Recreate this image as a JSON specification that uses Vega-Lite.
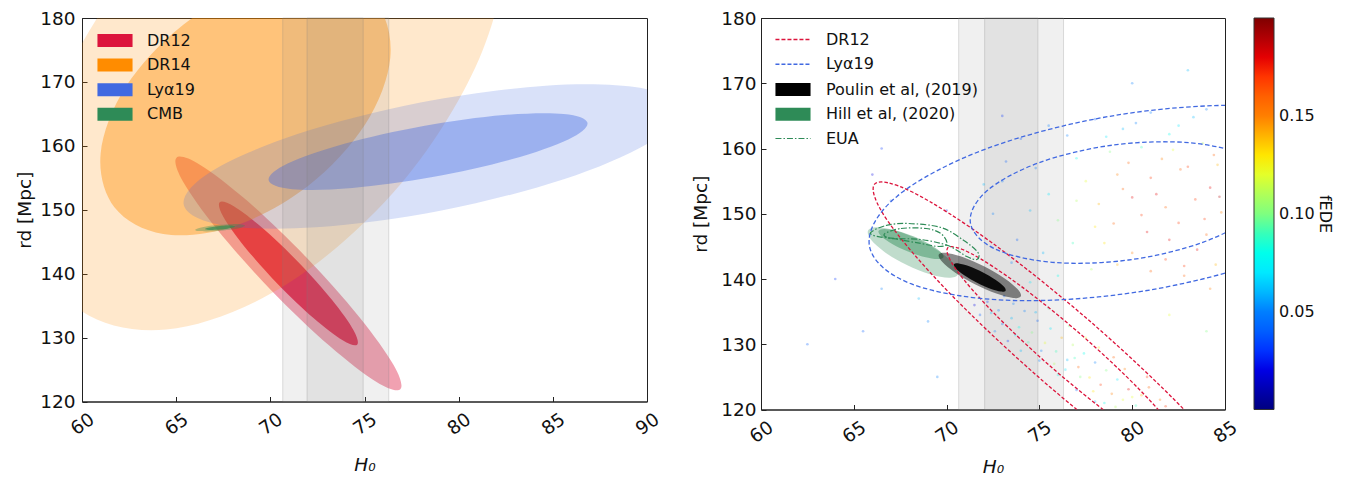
{
"$schema":"https://vega.github.io/schema/vega-lite/v6.json",
"background":"white",
"padding":{"left":15,"top":8,"right":5,"bottom":5},
"config":{"font":"DejaVu Sans","view":{"stroke":"#222","strokeWidth":1},
 "legend":{"symbolOpacity":1,"gradientOpacity":1},
 "axis":{"grid":false,"domainColor":"#222","domainWidth":1,"tickColor":"#222","tickSize":-5,"tickWidth":1,"labelFontSize":18.5,"titleFontSize":18.5,"titleFontWeight":"normal","labelColor":"#111","titleColor":"#111","labelFlush":false,"labelOverlap":false,"labelBound":false}},
"datasets":{
"bandL":[{"x":70.66,"x2":76.29,"y":120,"y2":180},{"x":71.95,"x2":74.93,"y":120,"y2":180}],
"bandR":[{"x":70.65,"x2":76.3,"y":120,"y2":180},{"x":72.05,"x2":74.92,"y":120,"y2":180}],
"shp":[
{"id":"dr12o","n":"DR12","o":0,"x":76.90,"y":121.91},{"id":"dr12o","n":"DR12","o":1,"x":75.64,"y":123.04},{"id":"dr12o","n":"DR12","o":2,"x":73.14,"y":128.71},{"id":"dr12o","n":"DR12","o":3,"x":70.04,"y":137.42},{"id":"dr12o","n":"DR12","o":4,"x":67.20,"y":146.83},{"id":"dr12o","n":"DR12","o":5,"x":65.36,"y":154.42},{"id":"dr12o","n":"DR12","o":6,"x":65.02,"y":158.15},{"id":"dr12o","n":"DR12","o":7,"x":66.28,"y":157.02},{"id":"dr12o","n":"DR12","o":8,"x":68.79,"y":151.35},{"id":"dr12o","n":"DR12","o":9,"x":71.88,"y":142.64},{"id":"dr12o","n":"DR12","o":10,"x":74.72,"y":133.23},{"id":"dr12o","n":"DR12","o":11,"x":76.56,"y":125.64},
{"id":"dr12i","n":"DR12","o":0,"x":74.61,"y":128.89},{"id":"dr12i","n":"DR12","o":1,"x":73.84,"y":129.57},{"id":"dr12i","n":"DR12","o":2,"x":72.29,"y":133.05},{"id":"dr12i","n":"DR12","o":3,"x":70.39,"y":138.40},{"id":"dr12i","n":"DR12","o":4,"x":68.64,"y":144.19},{"id":"dr12i","n":"DR12","o":5,"x":67.51,"y":148.86},{"id":"dr12i","n":"DR12","o":6,"x":67.31,"y":151.17},{"id":"dr12i","n":"DR12","o":7,"x":68.08,"y":150.49},{"id":"dr12i","n":"DR12","o":8,"x":69.63,"y":147.01},{"id":"dr12i","n":"DR12","o":9,"x":71.53,"y":141.66},{"id":"dr12i","n":"DR12","o":10,"x":73.28,"y":135.87},{"id":"dr12i","n":"DR12","o":11,"x":74.41,"y":131.20},
{"id":"dr14o","n":"DR14","o":0,"x":80.40,"y":208.10},{"id":"dr14o","n":"DR14","o":1,"x":82.51,"y":194.55},{"id":"dr14o","n":"DR14","o":2,"x":81.26,"y":174.85},{"id":"dr14o","n":"DR14","o":3,"x":76.99,"y":154.25},{"id":"dr14o","n":"DR14","o":4,"x":70.85,"y":138.30},{"id":"dr14o","n":"DR14","o":5,"x":64.48,"y":131.25},{"id":"dr14o","n":"DR14","o":6,"x":59.58,"y":135.00},{"id":"dr14o","n":"DR14","o":7,"x":57.48,"y":148.55},{"id":"dr14o","n":"DR14","o":8,"x":58.72,"y":168.26},{"id":"dr14o","n":"DR14","o":9,"x":62.99,"y":188.85},{"id":"dr14o","n":"DR14","o":10,"x":69.13,"y":204.81},{"id":"dr14o","n":"DR14","o":11,"x":75.51,"y":211.85},
{"id":"dr14i","n":"DR14","o":0,"x":75.64,"y":182.24},{"id":"dr14i","n":"DR14","o":1,"x":76.37,"y":173.80},{"id":"dr14i","n":"DR14","o":2,"x":75.04,"y":163.36},{"id":"dr14i","n":"DR14","o":3,"x":72.00,"y":153.70},{"id":"dr14i","n":"DR14","o":4,"x":68.07,"y":147.43},{"id":"dr14i","n":"DR14","o":5,"x":64.31,"y":146.21},{"id":"dr14i","n":"DR14","o":6,"x":61.72,"y":150.38},{"id":"dr14i","n":"DR14","o":7,"x":60.99,"y":158.82},{"id":"dr14i","n":"DR14","o":8,"x":62.33,"y":169.27},{"id":"dr14i","n":"DR14","o":9,"x":65.36,"y":178.92},{"id":"dr14i","n":"DR14","o":10,"x":69.29,"y":185.20},{"id":"dr14i","n":"DR14","o":11,"x":73.05,"y":186.41},
{"id":"lyao","n":"Lyα19","o":0,"x":91.67,"y":165.85},{"id":"lyao","n":"Lyα19","o":1,"x":90.18,"y":160.62},{"id":"lyao","n":"Lyα19","o":2,"x":85.58,"y":154.78},{"id":"lyao","n":"Lyα19","o":3,"x":79.09,"y":149.88},{"id":"lyao","n":"Lyα19","o":4,"x":72.44,"y":147.26},{"id":"lyao","n":"Lyα19","o":5,"x":67.43,"y":147.59},{"id":"lyao","n":"Lyα19","o":6,"x":65.40,"y":150.81},{"id":"lyao","n":"Lyα19","o":7,"x":66.88,"y":156.04},{"id":"lyao","n":"Lyα19","o":8,"x":71.48,"y":161.88},{"id":"lyao","n":"Lyα19","o":9,"x":77.97,"y":166.78},{"id":"lyao","n":"Lyα19","o":10,"x":84.62,"y":169.41},{"id":"lyao","n":"Lyα19","o":11,"x":89.63,"y":169.07},
{"id":"lyai","n":"Lyα19","o":0,"x":86.84,"y":163.60},{"id":"lyai","n":"Lyα19","o":1,"x":85.82,"y":161.00},{"id":"lyai","n":"Lyα19","o":2,"x":82.81,"y":157.89},{"id":"lyai","n":"Lyα19","o":3,"x":78.61,"y":155.11},{"id":"lyai","n":"Lyα19","o":4,"x":74.35,"y":153.40},{"id":"lyai","n":"Lyα19","o":5,"x":71.16,"y":153.22},{"id":"lyai","n":"Lyα19","o":6,"x":69.91,"y":154.62},{"id":"lyai","n":"Lyα19","o":7,"x":70.92,"y":157.22},{"id":"lyai","n":"Lyα19","o":8,"x":73.93,"y":160.33},{"id":"lyai","n":"Lyα19","o":9,"x":78.13,"y":163.11},{"id":"lyai","n":"Lyα19","o":10,"x":82.39,"y":164.82},{"id":"lyai","n":"Lyα19","o":11,"x":85.58,"y":165.00},
{"id":"cmbo","n":"CMB","o":0,"x":68.65,"y":147.52},{"id":"cmbo","n":"CMB","o":1,"x":68.48,"y":147.24},{"id":"cmbo","n":"CMB","o":2,"x":68.00,"y":146.94},{"id":"cmbo","n":"CMB","o":3,"x":67.34,"y":146.71},{"id":"cmbo","n":"CMB","o":4,"x":66.68,"y":146.61},{"id":"cmbo","n":"CMB","o":5,"x":66.19,"y":146.66},{"id":"cmbo","n":"CMB","o":6,"x":66.01,"y":146.85},{"id":"cmbo","n":"CMB","o":7,"x":66.18,"y":147.12},{"id":"cmbo","n":"CMB","o":8,"x":66.66,"y":147.42},{"id":"cmbo","n":"CMB","o":9,"x":67.32,"y":147.65},{"id":"cmbo","n":"CMB","o":10,"x":67.98,"y":147.75},{"id":"cmbo","n":"CMB","o":11,"x":68.47,"y":147.70},
{"id":"cmbi","n":"CMB","o":0,"x":68.12,"y":147.38},{"id":"cmbi","n":"CMB","o":1,"x":68.02,"y":147.21},{"id":"cmbi","n":"CMB","o":2,"x":67.73,"y":147.04},{"id":"cmbi","n":"CMB","o":3,"x":67.34,"y":146.90},{"id":"cmbi","n":"CMB","o":4,"x":66.94,"y":146.84},{"id":"cmbi","n":"CMB","o":5,"x":66.65,"y":146.87},{"id":"cmbi","n":"CMB","o":6,"x":66.54,"y":146.98},{"id":"cmbi","n":"CMB","o":7,"x":66.64,"y":147.15},{"id":"cmbi","n":"CMB","o":8,"x":66.93,"y":147.32},{"id":"cmbi","n":"CMB","o":9,"x":67.32,"y":147.46},{"id":"cmbi","n":"CMB","o":10,"x":67.72,"y":147.52},{"id":"cmbi","n":"CMB","o":11,"x":68.01,"y":147.49},
{"id":"rdo","n":"DR12","o":0,"x":86.84,"y":103.25},{"id":"rdo","n":"DR12","o":1,"x":84.78,"y":104.49},{"id":"rdo","n":"DR12","o":2,"x":80.50,"y":112.26},{"id":"rdo","n":"DR12","o":3,"x":75.14,"y":124.50},{"id":"rdo","n":"DR12","o":4,"x":70.14,"y":137.90},{"id":"rdo","n":"DR12","o":5,"x":66.83,"y":148.89},{"id":"rdo","n":"DR12","o":6,"x":66.12,"y":154.53},{"id":"rdo","n":"DR12","o":7,"x":68.18,"y":153.29},{"id":"rdo","n":"DR12","o":8,"x":72.46,"y":145.52},{"id":"rdo","n":"DR12","o":9,"x":77.82,"y":133.29},{"id":"rdo","n":"DR12","o":10,"x":82.83,"y":119.88},{"id":"rdo","n":"DR12","o":11,"x":86.13,"y":108.89},
{"id":"rdi","n":"DR12","o":0,"x":82.90,"y":113.00},{"id":"rdi","n":"DR12","o":1,"x":81.65,"y":113.86},{"id":"rdi","n":"DR12","o":2,"x":79.02,"y":118.74},{"id":"rdi","n":"DR12","o":3,"x":75.70,"y":126.35},{"id":"rdi","n":"DR12","o":4,"x":72.60,"y":134.63},{"id":"rdi","n":"DR12","o":5,"x":70.53,"y":141.38},{"id":"rdi","n":"DR12","o":6,"x":70.06,"y":144.78},{"id":"rdi","n":"DR12","o":7,"x":71.31,"y":143.92},{"id":"rdi","n":"DR12","o":8,"x":73.94,"y":139.04},{"id":"rdi","n":"DR12","o":9,"x":77.26,"y":131.43},{"id":"rdi","n":"DR12","o":10,"x":80.36,"y":123.15},{"id":"rdi","n":"DR12","o":11,"x":82.43,"y":116.40},
{"id":"rlo","n":"Lyα19","o":0,"x":94.00,"y":158.21},{"id":"rlo","n":"Lyα19","o":1,"x":92.50,"y":150.60},{"id":"rlo","n":"Lyα19","o":2,"x":87.63,"y":143.27},{"id":"rlo","n":"Lyα19","o":3,"x":80.69,"y":138.19},{"id":"rlo","n":"Lyα19","o":4,"x":73.55,"y":136.71},{"id":"rlo","n":"Lyα19","o":5,"x":68.11,"y":139.24},{"id":"rlo","n":"Lyα19","o":6,"x":65.84,"y":145.09},{"id":"rlo","n":"Lyα19","o":7,"x":67.34,"y":152.70},{"id":"rlo","n":"Lyα19","o":8,"x":72.21,"y":160.03},{"id":"rlo","n":"Lyα19","o":9,"x":79.15,"y":165.11},{"id":"rlo","n":"Lyα19","o":10,"x":86.29,"y":166.59},{"id":"rlo","n":"Lyα19","o":11,"x":91.73,"y":164.06},
{"id":"rli","n":"Lyα19","o":0,"x":87.51,"y":154.79},{"id":"rli","n":"Lyα19","o":1,"x":86.62,"y":149.97},{"id":"rli","n":"Lyα19","o":2,"x":83.80,"y":145.62},{"id":"rli","n":"Lyα19","o":3,"x":79.80,"y":142.91},{"id":"rli","n":"Lyα19","o":4,"x":75.69,"y":142.56},{"id":"rli","n":"Lyα19","o":5,"x":72.57,"y":144.66},{"id":"rli","n":"Lyα19","o":6,"x":71.28,"y":148.66},{"id":"rli","n":"Lyα19","o":7,"x":72.16,"y":153.47},{"id":"rli","n":"Lyα19","o":8,"x":74.98,"y":157.82},{"id":"rli","n":"Lyα19","o":9,"x":78.98,"y":160.53},{"id":"rli","n":"Lyα19","o":10,"x":83.09,"y":160.88},{"id":"rli","n":"Lyα19","o":11,"x":86.21,"y":158.78},
{"id":"poo","n":"Poulin et al, (2019)","o":0,"x":74.00,"y":137.34},{"id":"poo","n":"Poulin et al, (2019)","o":1,"x":73.58,"y":137.08},{"id":"poo","n":"Poulin et al, (2019)","o":2,"x":72.68,"y":137.76},{"id":"poo","n":"Poulin et al, (2019)","o":3,"x":71.55,"y":139.17},{"id":"poo","n":"Poulin et al, (2019)","o":4,"x":70.47,"y":140.96},{"id":"poo","n":"Poulin et al, (2019)","o":5,"x":69.76,"y":142.63},{"id":"poo","n":"Poulin et al, (2019)","o":6,"x":69.58,"y":143.74},{"id":"poo","n":"Poulin et al, (2019)","o":7,"x":70.00,"y":144.00},{"id":"poo","n":"Poulin et al, (2019)","o":8,"x":70.90,"y":143.33},{"id":"poo","n":"Poulin et al, (2019)","o":9,"x":72.04,"y":141.91},{"id":"poo","n":"Poulin et al, (2019)","o":10,"x":73.11,"y":140.12},{"id":"poo","n":"Poulin et al, (2019)","o":11,"x":73.82,"y":138.45},
{"id":"poi","n":"Poulin et al, (2019)","o":0,"x":73.18,"y":138.21},{"id":"poi","n":"Poulin et al, (2019)","o":1,"x":72.92,"y":138.07},{"id":"poi","n":"Poulin et al, (2019)","o":2,"x":72.36,"y":138.51},{"id":"poi","n":"Poulin et al, (2019)","o":3,"x":71.64,"y":139.41},{"id":"poi","n":"Poulin et al, (2019)","o":4,"x":70.97,"y":140.53},{"id":"poi","n":"Poulin et al, (2019)","o":5,"x":70.51,"y":141.57},{"id":"poi","n":"Poulin et al, (2019)","o":6,"x":70.40,"y":142.25},{"id":"poi","n":"Poulin et al, (2019)","o":7,"x":70.66,"y":142.39},{"id":"poi","n":"Poulin et al, (2019)","o":8,"x":71.22,"y":141.95},{"id":"poi","n":"Poulin et al, (2019)","o":9,"x":71.94,"y":141.05},{"id":"poi","n":"Poulin et al, (2019)","o":10,"x":72.61,"y":139.93},{"id":"poi","n":"Poulin et al, (2019)","o":11,"x":73.07,"y":138.89},
{"id":"hio","n":"Hill et al, (2020)","o":0,"x":70.61,"y":140.70},{"id":"hio","n":"Hill et al, (2020)","o":1,"x":70.12,"y":140.19},{"id":"hio","n":"Hill et al, (2020)","o":2,"x":69.11,"y":140.71},{"id":"hio","n":"Hill et al, (2020)","o":3,"x":67.86,"y":142.13},{"id":"hio","n":"Hill et al, (2020)","o":4,"x":66.69,"y":144.07},{"id":"hio","n":"Hill et al, (2020)","o":5,"x":65.93,"y":146.00},{"id":"hio","n":"Hill et al, (2020)","o":6,"x":65.77,"y":147.42},{"id":"hio","n":"Hill et al, (2020)","o":7,"x":66.26,"y":147.93},{"id":"hio","n":"Hill et al, (2020)","o":8,"x":67.27,"y":147.41},{"id":"hio","n":"Hill et al, (2020)","o":9,"x":68.52,"y":145.99},{"id":"hio","n":"Hill et al, (2020)","o":10,"x":69.69,"y":144.05},{"id":"hio","n":"Hill et al, (2020)","o":11,"x":70.45,"y":142.12},
{"id":"hii","n":"Hill et al, (2020)","o":0,"x":69.83,"y":143.35},{"id":"hii","n":"Hill et al, (2020)","o":1,"x":69.51,"y":143.05},{"id":"hii","n":"Hill et al, (2020)","o":2,"x":68.81,"y":143.37},{"id":"hii","n":"Hill et al, (2020)","o":3,"x":67.92,"y":144.22},{"id":"hii","n":"Hill et al, (2020)","o":4,"x":67.07,"y":145.38},{"id":"hii","n":"Hill et al, (2020)","o":5,"x":66.49,"y":146.53},{"id":"hii","n":"Hill et al, (2020)","o":6,"x":66.33,"y":147.37},{"id":"hii","n":"Hill et al, (2020)","o":7,"x":66.65,"y":147.67},{"id":"hii","n":"Hill et al, (2020)","o":8,"x":67.35,"y":147.35},{"id":"hii","n":"Hill et al, (2020)","o":9,"x":68.24,"y":146.50},{"id":"hii","n":"Hill et al, (2020)","o":10,"x":69.09,"y":145.34},{"id":"hii","n":"Hill et al, (2020)","o":11,"x":69.67,"y":144.19},
{"id":"euo","n":"EUA","o":0,"x":65.92,"y":147.13},{"id":"euo","n":"EUA","o":1,"x":66.73,"y":148.20},{"id":"euo","n":"EUA","o":2,"x":67.92,"y":148.51},{"id":"euo","n":"EUA","o":3,"x":69.69,"y":147.89},{"id":"euo","n":"EUA","o":4,"x":70.93,"y":145.90},{"id":"euo","n":"EUA","o":5,"x":71.69,"y":144.06},{"id":"euo","n":"EUA","o":6,"x":71.63,"y":142.99},{"id":"euo","n":"EUA","o":7,"x":71.09,"y":143.45},{"id":"euo","n":"EUA","o":8,"x":70.07,"y":145.13},{"id":"euo","n":"EUA","o":9,"x":68.62,"y":146.05},{"id":"euo","n":"EUA","o":10,"x":67.27,"y":146.21},{"id":"euo","n":"EUA","o":11,"x":66.25,"y":146.52},
{"id":"eui","n":"EUA","o":0,"x":66.68,"y":146.97},{"id":"eui","n":"EUA","o":1,"x":67.54,"y":147.74},{"id":"eui","n":"EUA","o":2,"x":68.89,"y":147.74},{"id":"eui","n":"EUA","o":3,"x":69.69,"y":146.97},{"id":"eui","n":"EUA","o":4,"x":70.02,"y":145.44},{"id":"eui","n":"EUA","o":5,"x":69.59,"y":144.98},{"id":"eui","n":"EUA","o":6,"x":68.62,"y":145.44},{"id":"eui","n":"EUA","o":7,"x":67.43,"y":146.05},{"id":"eui","n":"EUA","o":8,"x":66.79,"y":146.36}
],
"pts":[
{"x":72.2,"y":136.5,"f":0.03},{"x":72.8,"y":135.2,"f":0.05},{"x":73.1,"y":137.4,"f":0.04},{"x":73.5,"y":134.0,"f":0.06},{"x":73.9,"y":132.6,"f":0.08},{"x":74.2,"y":135.1,"f":0.05},{"x":74.6,"y":131.8,"f":0.10},{"x":74.9,"y":133.6,"f":0.04},{"x":75.3,"y":130.2,"f":0.12},{"x":75.6,"y":132.4,"f":0.07},{"x":75.9,"y":128.9,"f":0.09},{"x":76.2,"y":131.0,"f":0.14},{"x":76.5,"y":127.6,"f":0.06},{"x":76.8,"y":129.9,"f":0.11},{"x":77.1,"y":126.5,"f":0.16},{"x":77.4,"y":128.6,"f":0.08},{"x":77.7,"y":124.9,"f":0.13},{"x":78.0,"y":127.2,"f":0.05},{"x":78.3,"y":123.8,"f":0.17},{"x":78.6,"y":126.0,"f":0.10},{"x":78.9,"y":122.4,"f":0.15},{"x":79.2,"y":124.6,"f":0.07},{"x":79.5,"y":121.5,"f":0.12},{"x":79.8,"y":123.1,"f":0.18},{"x":80.2,"y":120.6,"f":0.09},{"x":80.5,"y":122.2,"f":0.14},{"x":73.3,"y":130.5,"f":0.03},{"x":74.0,"y":129.0,"f":0.06},{"x":75.0,"y":127.5,"f":0.05},{"x":76.0,"y":125.3,"f":0.08},{"x":77.0,"y":123.0,"f":0.04},{"x":78.0,"y":121.2,"f":0.06},{"x":72.6,"y":132.0,"f":0.05},{"x":71.5,"y":136.0,"f":0.02},{"x":71.8,"y":134.5,"f":0.04},{"x":75.5,"y":135.5,"f":0.09},{"x":77.5,"y":131.0,"f":0.12},{"x":79.0,"y":128.0,"f":0.16},{"x":80.8,"y":125.0,"f":0.17},{"x":81.5,"y":121.5,"f":0.15},
{"x":72.4,"y":134.8,"f":0.06},{"x":73.0,"y":133.1,"f":0.04},{"x":73.7,"y":131.4,"f":0.07},{"x":74.4,"y":130.3,"f":0.09},{"x":75.1,"y":129.0,"f":0.05},{"x":75.8,"y":127.0,"f":0.11},{"x":76.4,"y":126.1,"f":0.07},{"x":77.2,"y":125.0,"f":0.10},{"x":77.9,"y":122.8,"f":0.13},{"x":78.5,"y":121.0,"f":0.08},{"x":79.1,"y":120.4,"f":0.11},{"x":74.8,"y":134.9,"f":0.06},{"x":76.6,"y":132.8,"f":0.10},{"x":78.2,"y":129.5,"f":0.13},{"x":79.6,"y":126.2,"f":0.15},{"x":80.9,"y":123.4,"f":0.16},{"x":81.8,"y":120.5,"f":0.17},{"x":73.6,"y":136.2,"f":0.05},{"x":76.9,"y":127.9,"f":0.09},{"x":80.0,"y":121.9,"f":0.12},
{"x":76.5,"y":162.0,"f":0.05},{"x":78.0,"y":164.5,"f":0.04},{"x":79.5,"y":163.0,"f":0.06},{"x":81.0,"y":165.5,"f":0.05},{"x":82.5,"y":163.5,"f":0.07},{"x":84.0,"y":166.0,"f":0.05},{"x":77.0,"y":158.5,"f":0.08},{"x":78.8,"y":159.5,"f":0.10},{"x":80.5,"y":160.2,"f":0.09},{"x":82.2,"y":159.8,"f":0.12},{"x":83.8,"y":160.8,"f":0.11},{"x":84.6,"y":157.5,"f":0.14},{"x":77.5,"y":155.0,"f":0.12},{"x":79.2,"y":156.0,"f":0.15},{"x":81.0,"y":155.5,"f":0.17},{"x":82.6,"y":156.8,"f":0.16},{"x":84.2,"y":154.0,"f":0.18},{"x":78.2,"y":151.5,"f":0.14},{"x":80.0,"y":152.5,"f":0.18},{"x":81.8,"y":151.0,"f":0.16},{"x":83.4,"y":152.2,"f":0.17},{"x":84.8,"y":150.2,"f":0.15},{"x":79.0,"y":148.5,"f":0.16},{"x":80.8,"y":147.2,"f":0.18},{"x":82.5,"y":148.6,"f":0.17},{"x":84.0,"y":146.8,"f":0.16},{"x":80.0,"y":144.0,"f":0.15},{"x":81.8,"y":143.0,"f":0.17},{"x":83.5,"y":144.5,"f":0.18},{"x":78.5,"y":145.5,"f":0.13},{"x":76.0,"y":149.0,"f":0.10},{"x":75.5,"y":153.0,"f":0.07},{"x":74.8,"y":157.0,"f":0.05},{"x":76.8,"y":145.5,"f":0.09},{"x":82.8,"y":140.5,"f":0.16},{"x":84.5,"y":142.2,"f":0.14},{"x":77.8,"y":141.5,"f":0.11},{"x":73.8,"y":146.0,"f":0.04},{"x":74.5,"y":150.5,"f":0.06},{"x":73.0,"y":155.0,"f":0.05},
{"x":79.8,"y":157.8,"f":0.16},{"x":81.6,"y":158.4,"f":0.15},{"x":83.0,"y":157.2,"f":0.17},{"x":84.4,"y":159.0,"f":0.16},{"x":80.5,"y":149.8,"f":0.17},{"x":82.0,"y":146.0,"f":0.18},{"x":83.9,"y":149.2,"f":0.17},{"x":79.5,"y":153.8,"f":0.16},{"x":81.3,"y":153.0,"f":0.18},{"x":84.7,"y":152.6,"f":0.19},{"x":78.6,"y":161.8,"f":0.07},{"x":80.2,"y":163.9,"f":0.05},{"x":82.0,"y":162.2,"f":0.08},{"x":83.3,"y":164.8,"f":0.06},{"x":77.0,"y":152.0,"f":0.11},{"x":78.0,"y":148.0,"f":0.13},{"x":81.0,"y":141.2,"f":0.16},{"x":84.2,"y":138.5,"f":0.15},{"x":79.2,"y":142.2,"f":0.14},{"x":82.8,"y":142.0,"f":0.17},
{"x":72.5,"y":150.0,"f":0.05},{"x":73.2,"y":158.0,"f":0.04},{"x":72.0,"y":154.5,"f":0.06},{"x":73.5,"y":142.5,"f":0.05},{"x":74.5,"y":139.5,"f":0.07},{"x":75.2,"y":144.0,"f":0.06},{"x":76.0,"y":140.5,"f":0.08},{"x":74.0,"y":161.5,"f":0.04},{"x":75.5,"y":163.5,"f":0.05},{"x":73.0,"y":165.0,"f":0.03},
{"x":64.0,"y":140.0,"f":0.03},{"x":66.5,"y":138.5,"f":0.05},{"x":67.0,"y":152.0,"f":0.04},{"x":68.5,"y":137.0,"f":0.06},{"x":65.5,"y":132.0,"f":0.04},{"x":69.0,"y":133.5,"f":0.05},{"x":70.0,"y":150.5,"f":0.03},{"x":66.0,"y":156.0,"f":0.02},{"x":62.5,"y":130.0,"f":0.04},{"x":80.0,"y":170.0,"f":0.05},{"x":83.0,"y":172.0,"f":0.06},{"x":69.5,"y":125.0,"f":0.05},{"x":66.5,"y":160.0,"f":0.03},{"x":84.0,"y":132.0,"f":0.10},{"x":82.0,"y":134.5,"f":0.12}
]},
"spacing":28,
"resolve":{"scale":{"color":"independent","fill":"independent","stroke":"independent","strokeDash":"independent","x":"independent","y":"independent"},"legend":{"color":"independent","fill":"independent","stroke":"independent","strokeDash":"independent"}},
"hconcat":[
{"width":565,"height":383.5,
 "encoding":{
  "x":{"field":"x","type":"quantitative","scale":{"domain":[60,90],"nice":false,"zero":false},"axis":{"values":[60,65,70,75,80,85,90],"title":"H₀","titleFontStyle":"italic","labelAngle":-35,"labelAlign":"center","labelBaseline":"middle","labelPadding":27,"titlePadding":17}},
  "y":{"field":"y","type":"quantitative","scale":{"domain":[120,180],"nice":false,"zero":false},"axis":{"values":[120,130,140,150,160,170,180],"title":"rd [Mpc]","labelPadding":12,"titlePadding":5}}},
 "layer":[
  {"data":{"name":"shp"},"transform":[{"filter":"datum.id==='dr12o'"}],"mark":{"type":"line","interpolate":"cardinal-closed","filled":true,"opacity":0.4,"strokeWidth":0,"clip":true},
   "encoding":{"order":{"field":"o","type":"quantitative"},"color":{"field":"n","type":"nominal","scale":{"domain":["DR12","DR14","Lyα19","CMB"],"range":["#dc143c","#ff8c00","#4169e1","#2e8b57"]},
    "legend":{"orient":"none","legendX":25,"legendY":14.5,"title":null,"padding":0,"symbolType":"M-2.7,-1H2.7V1H-2.7Z","symbolSize":169,"symbolOpacity":1,"symbolStrokeWidth":0,"labelFontSize":16,"labelOffset":24,"rowPadding":8.6,"labelColor":"#111","labelLimit":400}}}},
  {"data":{"name":"shp"},"transform":[{"filter":"datum.id==='dr12i'"}],"mark":{"type":"line","interpolate":"cardinal-closed","filled":true,"opacity":0.8,"strokeWidth":0,"clip":true},
   "encoding":{"order":{"field":"o","type":"quantitative"},"color":{"field":"n","type":"nominal","scale":{"domain":["DR12","DR14","Lyα19","CMB"],"range":["#dc143c","#ff8c00","#4169e1","#2e8b57"]}}}},
  {"data":{"name":"shp"},"transform":[{"filter":"datum.id==='dr14o'"}],"mark":{"type":"line","interpolate":"cardinal-closed","filled":true,"opacity":0.2,"strokeWidth":0,"clip":true},
   "encoding":{"order":{"field":"o","type":"quantitative"},"color":{"field":"n","type":"nominal","scale":{"domain":["DR12","DR14","Lyα19","CMB"],"range":["#dc143c","#ff8c00","#4169e1","#2e8b57"]}}}},
  {"data":{"name":"shp"},"transform":[{"filter":"datum.id==='dr14i'"}],"mark":{"type":"line","interpolate":"cardinal-closed","filled":true,"opacity":0.4,"strokeWidth":0,"clip":true},
   "encoding":{"order":{"field":"o","type":"quantitative"},"color":{"field":"n","type":"nominal","scale":{"domain":["DR12","DR14","Lyα19","CMB"],"range":["#dc143c","#ff8c00","#4169e1","#2e8b57"]}}}},
  {"data":{"name":"shp"},"transform":[{"filter":"datum.id==='lyao'"}],"mark":{"type":"line","interpolate":"cardinal-closed","filled":true,"opacity":0.2,"strokeWidth":0,"clip":true},
   "encoding":{"order":{"field":"o","type":"quantitative"},"color":{"field":"n","type":"nominal","scale":{"domain":["DR12","DR14","Lyα19","CMB"],"range":["#dc143c","#ff8c00","#4169e1","#2e8b57"]}}}},
  {"data":{"name":"shp"},"transform":[{"filter":"datum.id==='lyai'"}],"mark":{"type":"line","interpolate":"cardinal-closed","filled":true,"opacity":0.4,"strokeWidth":0,"clip":true},
   "encoding":{"order":{"field":"o","type":"quantitative"},"color":{"field":"n","type":"nominal","scale":{"domain":["DR12","DR14","Lyα19","CMB"],"range":["#dc143c","#ff8c00","#4169e1","#2e8b57"]}}}},
  {"data":{"name":"shp"},"transform":[{"filter":"datum.id==='cmbo'"}],"mark":{"type":"line","interpolate":"cardinal-closed","filled":true,"opacity":0.35,"strokeWidth":0,"clip":true},
   "encoding":{"order":{"field":"o","type":"quantitative"},"color":{"field":"n","type":"nominal","scale":{"domain":["DR12","DR14","Lyα19","CMB"],"range":["#dc143c","#ff8c00","#4169e1","#2e8b57"]}}}},
  {"data":{"name":"shp"},"transform":[{"filter":"datum.id==='cmbi'"}],"mark":{"type":"line","interpolate":"cardinal-closed","filled":true,"opacity":0.7,"strokeWidth":0,"clip":true},
   "encoding":{"order":{"field":"o","type":"quantitative"},"color":{"field":"n","type":"nominal","scale":{"domain":["DR12","DR14","Lyα19","CMB"],"range":["#dc143c","#ff8c00","#4169e1","#2e8b57"]}}}},
  {"data":{"name":"bandL"},"mark":{"type":"rect","fill":"#808080","fillOpacity":0.12,"stroke":"#808080","strokeOpacity":0.25,"strokeWidth":1},"encoding":{"x2":{"field":"x2"},"y2":{"field":"y2"}}}
 ]},
{"width":464,"height":391.5,
 "encoding":{
  "x":{"field":"x","type":"quantitative","scale":{"domain":[60,85],"nice":false,"zero":false},"axis":{"values":[60,65,70,75,80,85],"title":"H₀","titleFontStyle":"italic","labelAngle":-35,"labelAlign":"center","labelBaseline":"middle","labelPadding":27,"titlePadding":11}},
  "y":{"field":"y","type":"quantitative","scale":{"domain":[120,180],"nice":false,"zero":false},"axis":{"values":[120,130,140,150,160,170,180],"title":"rd [Mpc]","labelPadding":10,"titlePadding":10}}},
 "layer":[
  {"data":{"name":"bandR"},"mark":{"type":"rect","fill":"#808080","fillOpacity":0.12,"stroke":"#808080","strokeOpacity":0.25,"strokeWidth":1},"encoding":{"x2":{"field":"x2"},"y2":{"field":"y2"}}},
  {"data":{"name":"pts"},"mark":{"type":"circle","size":7,"opacity":0.3,"clip":true},
   "encoding":{"fill":{"field":"f","type":"quantitative","scale":{"domain":[0,0.025,0.05,0.075,0.1,0.125,0.15,0.175,0.2],"range":["#00007f","#0000ff","#007fff","#00ffff","#7fff7f","#ffff00","#ff7f00","#ff0000","#7f0000"]},
    "legend":{"orient":"none","legendX":493,"legendY":0,"direction":"vertical","gradientLength":391.5,"gradientThickness":20,"gradientStrokeColor":"#333","gradientStrokeWidth":1,"gradientOpacity":1,"values":[0.05,0.1,0.15],"format":".2f","labelFontSize":16,"labelOffset":5,"labelColor":"#111","title":"fEDE","titleOrient":"right","titleAngle":90,"titleFontSize":16,"titleFontWeight":"normal","titleColor":"#111","titleAnchor":"middle","titlePadding":2,"padding":0}}}},
  {"data":{"name":"shp"},"transform":[{"filter":"datum.id==='hio'"}],"mark":{"type":"line","interpolate":"cardinal-closed","filled":true,"opacity":0.3,"strokeWidth":0,"clip":true},
   "encoding":{"order":{"field":"o","type":"quantitative"},"color":{"field":"n","type":"nominal","scale":{"domain":["Poulin et al, (2019)","Hill et al, (2020)"],"range":["#000000","#2e8b57"]},
    "legend":{"orient":"none","legendX":24,"legendY":63.5,"title":null,"padding":0,"symbolType":"M-2.7,-1H2.7V1H-2.7Z","symbolSize":169,"symbolOpacity":1,"symbolStrokeWidth":0,"labelFontSize":16,"labelOffset":25,"rowPadding":8.75,"labelColor":"#111","labelLimit":400}}}},
  {"data":{"name":"shp"},"transform":[{"filter":"datum.id==='hii'"}],"mark":{"type":"line","interpolate":"cardinal-closed","filled":true,"opacity":0.45,"strokeWidth":0,"clip":true},
   "encoding":{"order":{"field":"o","type":"quantitative"},"color":{"field":"n","type":"nominal","scale":{"domain":["Poulin et al, (2019)","Hill et al, (2020)"],"range":["#000000","#2e8b57"]}}}},
  {"data":{"name":"shp"},"transform":[{"filter":"datum.id==='poo'"}],"mark":{"type":"line","interpolate":"cardinal-closed","filled":true,"opacity":0.45,"strokeWidth":0,"clip":true},
   "encoding":{"order":{"field":"o","type":"quantitative"},"color":{"field":"n","type":"nominal","scale":{"domain":["Poulin et al, (2019)","Hill et al, (2020)"],"range":["#000000","#2e8b57"]}}}},
  {"data":{"name":"shp"},"transform":[{"filter":"datum.id==='poi'"}],"mark":{"type":"line","interpolate":"cardinal-closed","filled":true,"opacity":0.9,"strokeWidth":0,"clip":true},
   "encoding":{"order":{"field":"o","type":"quantitative"},"color":{"field":"n","type":"nominal","scale":{"domain":["Poulin et al, (2019)","Hill et al, (2020)"],"range":["#000000","#2e8b57"]}}}},
  {"data":{"name":"shp"},"transform":[{"filter":"datum.id==='rdo'"}],"mark":{"type":"line","interpolate":"cardinal-closed","strokeDash":[3.5,2],"strokeWidth":1.3,"clip":true},
   "encoding":{"order":{"field":"o","type":"quantitative"},"stroke":{"field":"n","type":"nominal","scale":{"domain":["DR12","Lyα19"],"range":["#dc143c","#4169e1"]},
    "legend":{"orient":"none","legendX":24,"legendY":13.5,"title":null,"padding":0,"symbolType":"M-2.7,0H2.7","symbolSize":169,"symbolOpacity":1,"symbolStrokeWidth":1.3,"symbolDash":[4,2],"labelFontSize":16,"labelOffset":25,"rowPadding":8.75,"labelColor":"#111","labelLimit":400}}}},
  {"data":{"name":"shp"},"transform":[{"filter":"datum.id==='rdi'"}],"mark":{"type":"line","interpolate":"cardinal-closed","strokeDash":[3.5,2],"strokeWidth":1.3,"clip":true},
   "encoding":{"order":{"field":"o","type":"quantitative"},"stroke":{"field":"n","type":"nominal","scale":{"domain":["DR12","Lyα19"],"range":["#dc143c","#4169e1"]}}}},
  {"data":{"name":"shp"},"transform":[{"filter":"datum.id==='rlo'"}],"mark":{"type":"line","interpolate":"cardinal-closed","strokeDash":[4.5,2.5],"strokeWidth":1.3,"clip":true},
   "encoding":{"order":{"field":"o","type":"quantitative"},"stroke":{"field":"n","type":"nominal","scale":{"domain":["DR12","Lyα19"],"range":["#dc143c","#4169e1"]}}}},
  {"data":{"name":"shp"},"transform":[{"filter":"datum.id==='rli'"}],"mark":{"type":"line","interpolate":"cardinal-closed","strokeDash":[4.5,2.5],"strokeWidth":1.3,"clip":true},
   "encoding":{"order":{"field":"o","type":"quantitative"},"stroke":{"field":"n","type":"nominal","scale":{"domain":["DR12","Lyα19"],"range":["#dc143c","#4169e1"]}}}},
  {"data":{"name":"shp"},"transform":[{"filter":"datum.id==='euo'"}],"mark":{"type":"line","interpolate":"cardinal-closed","stroke":"#2e8b57","strokeWidth":1.2,"clip":true},
   "encoding":{"order":{"field":"o","type":"quantitative"},"strokeDash":{"field":"n","type":"nominal","scale":{"domain":["EUA"],"range":[[6,2,1.5,2]]},
    "legend":{"orient":"none","legendX":24,"legendY":112.5,"title":null,"padding":0,"symbolType":"M-2.7,0H2.7","symbolSize":169,"symbolOpacity":1,"symbolStrokeWidth":1.2,"symbolStrokeColor":"#2e8b57","labelFontSize":16,"labelOffset":25,"labelColor":"#111","labelLimit":400}}}},
  {"data":{"name":"shp"},"transform":[{"filter":"datum.id==='eui'"}],"mark":{"type":"line","interpolate":"cardinal-closed","stroke":"#2e8b57","strokeWidth":1.2,"clip":true},
   "encoding":{"order":{"field":"o","type":"quantitative"},"strokeDash":{"field":"n","type":"nominal","scale":{"domain":["EUA"],"range":[[6,2,1.5,2]]}}}}
 ]}
]
}
